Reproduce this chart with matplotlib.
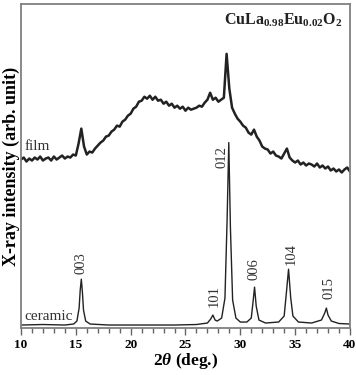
import numpy as np
import matplotlib
matplotlib.use("Agg")
import matplotlib.pyplot as plt
from matplotlib.ticker import MultipleLocator

plt.rcParams["font.family"] = "Liberation Serif"
plt.rcParams["mathtext.fontset"] = "custom"
plt.rcParams["mathtext.rm"] = "Liberation Serif:bold"
plt.rcParams["mathtext.bf"] = "Liberation Serif:bold"
plt.rcParams["mathtext.it"] = "Liberation Serif:italic:bold"

# film pattern, sampled every 0.25 deg from 10 to 40
film_2theta = np.arange(10.0, 40.001, 0.25)
film_counts = [
    169, 171, 167, 170, 168, 171, 169, 172, 168, 170,
    171, 168, 172, 169, 171, 173, 170, 172, 171, 174,
    173, 185, 200, 182, 174, 177, 176, 180, 183, 186,
    188, 192, 193, 197, 199, 203, 202, 207, 209, 213,
    215, 220, 222, 227, 228, 232, 230, 233, 229, 232,
    228, 229, 225, 227, 223, 225, 221, 223, 220, 222,
    218, 221, 219, 220, 221, 223, 222, 226, 229, 236,
    229, 231, 227, 229, 231, 275, 240, 221, 215, 210,
    207, 203, 201, 196, 194, 199, 192, 188, 182, 180,
    179, 175, 177, 173, 172, 170, 175, 180, 171, 168,
    166, 168, 164, 166, 163, 165, 164, 162, 165, 161,
    163, 160, 162, 158, 160, 157, 159, 156, 159, 161,
    157,
]

# ceramic pattern
ceramic_2theta = [
    10.0, 12.0, 14.0, 14.8, 15.1, 15.3, 15.4, 15.5, 15.6, 15.7, 15.9, 16.3,
    18.0, 20.0, 22.0, 24.0, 26.0, 27.0, 27.3, 27.5, 27.7, 27.9, 28.3, 28.6,
    28.8, 28.95, 29.1, 29.3, 29.6, 30.0, 30.6, 31.0, 31.15, 31.3, 31.45, 31.7,
    32.3, 33.5, 34.0, 34.2, 34.4, 34.6, 34.8, 35.3, 36.5, 37.4, 37.7, 37.85,
    38.0, 38.3, 39.0, 40.0,
]
ceramic_counts = [
    3, 3.5, 3, 4, 7, 20, 38, 49, 36, 18, 7, 4,
    3, 3, 3, 3, 3.5, 5, 9, 13, 8, 7, 10, 30,
    110, 186, 100, 28, 10, 6, 6, 10, 25, 41, 22, 8,
    5, 6, 12, 35, 59, 30, 12, 6, 5, 8, 15, 20,
    13, 7, 4.5, 4,
]

peak_labels = ["003", "101", "012", "006", "104", "015"]
peak_label_x = [15.5, 27.6, 28.35, 31.25, 34.6, 38.1]
peak_label_y = [65, 32, 171, 59, 74, 40]

fig = plt.figure(figsize=(3.56, 3.75), dpi=100)
ax = fig.add_axes([0.059, 0.1253, 0.924, 0.864])

ax.plot(film_2theta, film_counts, color="#222222", lw=1.8)
ax.plot(ceramic_2theta, ceramic_counts, color="#222222", lw=1.0)

for lab, px, py in zip(peak_labels, peak_label_x, peak_label_y):
    ax.text(px, py, lab, rotation=90, ha="center", va="center",
            fontsize=10.5, color="#333333")

ax.text(10.35, 182, "film", ha="left", va="center", fontsize=11, color="#333333")
ax.text(10.35, 12, "ceramic", ha="left", va="center", fontsize=11, color="#333333")
ax.text(39.3, 309, r"CuLa$_{0.98}$Eu$_{0.02}$O$_2$", ha="right", va="center",
        fontsize=11.5, fontweight="bold", color="#222222")

ax.set_xlim(10, 40)
ax.set_ylim(0, 325)
ax.set_yticks([])
ax.xaxis.set_major_locator(MultipleLocator(5))
ax.xaxis.set_minor_locator(MultipleLocator(1))
ax.tick_params(axis="x", which="major", direction="out", length=5, width=1,
               color="#666666", labelsize=9.5, pad=3)
ax.tick_params(axis="x", which="minor", direction="out", length=3.5, width=1,
               color="#666666")
for t in ax.get_xticklabels():
    t.set_fontweight("bold")

for s in ax.spines.values():
    s.set_color("#808080")
    s.set_linewidth(1.3)

ax.set_xlabel(r"$2\theta$ (deg.)", fontsize=12.5, fontweight="bold", labelpad=0)
ax.set_ylabel("X-ray intensity (arb. unit)", fontsize=13, fontweight="bold",
              labelpad=1)

fig.savefig("out.png", dpi=100)
